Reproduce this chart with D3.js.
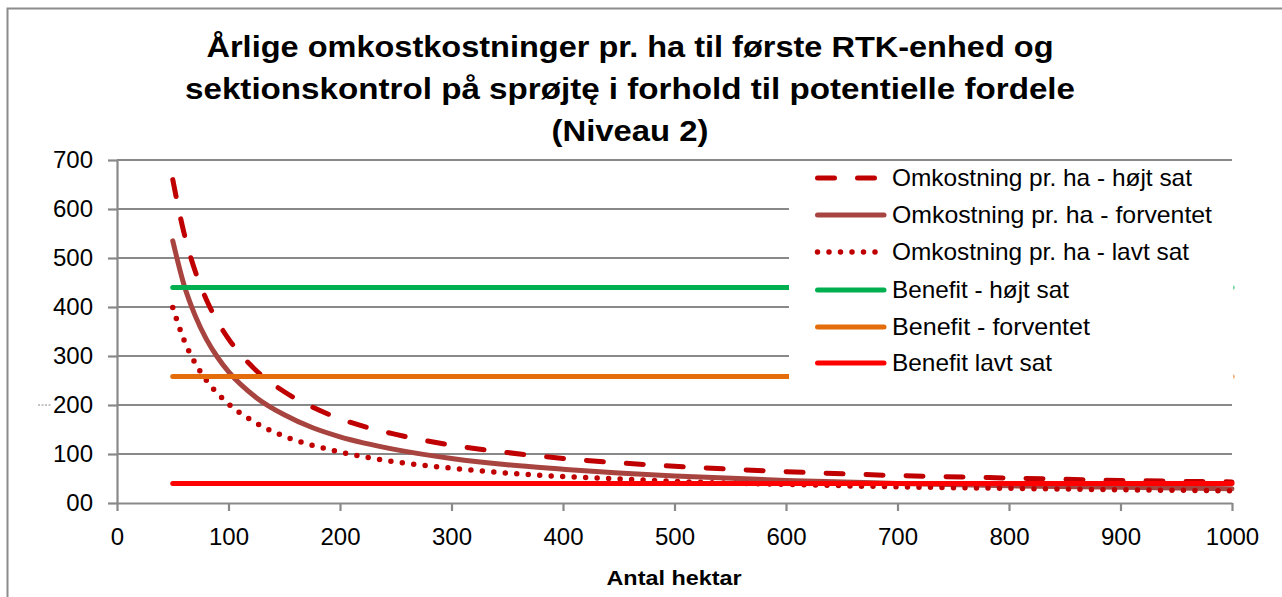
<!DOCTYPE html>
<html>
<head>
<meta charset="utf-8">
<script src="https://cdn.jsdelivr.net/npm/d3@7"></script>
<style>
  body { margin: 0; background: #fff; }
  text { font-family: "Liberation Sans", Arial, sans-serif; fill: #000; }
  .axis path, .axis line { stroke: #898989; stroke-width: 2.2; }
</style>
</head>
<body>
<svg id="chart" width="1282" height="597"></svg>
<script>
// data
var hektar = [50, 60, 70, 80, 90, 100, 125, 150, 175, 200, 250, 300, 350, 400, 450, 500, 600, 700, 800, 900, 1000];
var costHigh = [660, 552, 474, 416, 371, 335, 270, 227, 196, 172, 140, 118, 103, 91, 82, 75, 64, 56, 51, 46, 43];
var costExpected = [535, 446, 383, 335, 298, 268, 215, 180, 154, 135, 109, 91, 78, 69, 61, 55, 46, 40, 35, 32, 29];
var costLow = [399, 333, 286, 251, 224, 202, 163, 136, 118, 104, 84, 71, 61, 54, 49, 44, 38, 33, 30, 27, 25];
var benefitX = [50, 1000];
var benefitHigh = [440, 440];
var benefitExpected = [258, 258];
var benefitLow = [40, 40];
var yTicks = [0, 100, 200, 300, 400, 500, 600, 700];
var xTicks = [0, 100, 200, 300, 400, 500, 600, 700, 800, 900, 1000];
var titleLines = ["Årlige omkostkostninger pr. ha til første RTK-enhed og",
                  "sektionskontrol på sprøjtę i forhold til potentielle fordele",
                  "(Niveau 2)"];
var seriesNames = ["Omkostning pr. ha - højt sat", "Omkostning pr. ha - forventet",
                   "Omkostning pr. ha - lavt sat", "Benefit - højt sat",
                   "Benefit - forventet", "Benefit lavt sat"];

var svg = d3.select('#chart');
var X0 = 117, X1 = 1232, Y0 = 503, Y1 = 160;
var x = d3.scaleLinear().domain([0, 1000]).range([X0, X1]);
var y = d3.scaleLinear().domain([0, 700]).range([Y0, Y1]);

// squeeze text to a width measured on the picture
var fit = function(sel, w){
    sel.attr('textLength', w).attr('lengthAdjust', 'spacingAndGlyphs');
};

// outer chart border
svg.append('rect')
    .attr('x', 7.5).attr('y', 8.5).attr('width', 1300).attr('height', 620)
    .attr('fill', 'none').attr('stroke', '#8c8c8c').attr('stroke-width', 2);

// title
var titleBase = [57, 99, 141];
var titleW = [847, 890, 157];
titleLines.forEach(function(t, i){
    svg.append('text')
        .attr('x', 630).attr('y', titleBase[i])
        .attr('text-anchor', 'middle')
        .attr('font-size', 30).attr('font-weight', 'bold')
        .text(t)
        .call(fit, titleW[i]);
});

// gridlines
svg.append('g').selectAll('line')
    .data(yTicks.filter(function(d){ return d > 0; }))
    .join('line')
    .attr('x1', X0).attr('x2', X1)
    .attr('y1', function(d){ return y(d); }).attr('y2', function(d){ return y(d); })
    .attr('stroke', '#898989').attr('stroke-width', 2.2);

// axes
svg.append('g').attr('class', 'axis')
    .attr('transform', 'translate(' + X0 + ',0)')
    .call(d3.axisLeft(y).tickValues(yTicks).tickSizeInner(9).tickSizeOuter(0).tickPadding(15)
        .tickFormat(function(d){ return d === 0 ? '00' : String(d); }));
svg.append('g').attr('class', 'axis')
    .attr('transform', 'translate(0,' + Y0 + ')')
    .call(d3.axisBottom(x).tickValues(xTicks).tickSizeInner(8).tickSizeOuter(0).tickPadding(17)
        .tickFormat(function(d){ return String(d); }));
svg.selectAll('.axis text').attr('font-size', 24).attr('font-family', '"Liberation Sans", Arial, sans-serif').attr('fill', '#000');

// small stray mark left of the 200 label
svg.append('line')
    .attr('x1', 38).attr('x2', 52).attr('y1', 405).attr('y2', 405)
    .attr('stroke', '#888').attr('stroke-width', 1).attr('stroke-dasharray', '2,1.5');

// axis title
svg.append('text')
    .attr('x', 674).attr('y', 585).attr('text-anchor', 'middle')
    .attr('font-size', 20).attr('font-weight', 'bold')
    .text('Antal hektar')
    .call(fit, 135);

var styles = [
    {color: '#C00000', width: 5, dash: '17 23'},
    {color: '#A8443F', width: 5, dash: null},
    {color: '#C00000', width: 5.5, dash: '0 11.5'},
    {color: '#00B050', width: 5, dash: null},
    {color: '#E46C0A', width: 5, dash: null},
    {color: '#FF0000', width: 5, dash: null}
];
var series = [
    {xs: hektar, ys: costHigh},
    {xs: hektar, ys: costExpected},
    {xs: hektar, ys: costLow},
    {xs: benefitX, ys: benefitHigh},
    {xs: benefitX, ys: benefitExpected},
    {xs: benefitX, ys: benefitLow}
];

var line = d3.line()
    .x(function(d){ return x(d[0]); })
    .y(function(d){ return y(d[1]); })
    .curve(d3.curveMonotoneX);

series.forEach(function(s, i){
    var pts = s.xs.map(function(v, j){ return [v, s.ys[j]]; });
    svg.append('path')
        .attr('d', line(pts))
        .attr('fill', 'none')
        .attr('stroke', styles[i].color)
        .attr('stroke-width', styles[i].width)
        .attr('stroke-linecap', 'round')
        .attr('stroke-linejoin', 'round')
        .attr('stroke-dasharray', styles[i].dash);
});

// legend (white box over the plot)
svg.append('rect')
    .attr('x', 789).attr('y', 162).attr('width', 444.5).attr('height', 220)
    .attr('fill', '#fff');
var legendY = [178, 215, 252, 290, 327, 363];
var legendW = [300, 320, 297, 177, 198, 160];
seriesNames.forEach(function(name, i){
    svg.append('line')
        .attr('x1', 817.5).attr('x2', 884).attr('y1', legendY[i]).attr('y2', legendY[i])
        .attr('stroke', styles[i].color)
        .attr('stroke-width', styles[i].width)
        .attr('stroke-linecap', 'round')
        .attr('stroke-dasharray', styles[i].dash);
    svg.append('text')
        .attr('x', 892).attr('y', legendY[i] + 8)
        .attr('font-size', 24)
        .text(name)
        .call(fit, legendW[i]);
});
</script>
</body>
</html>
